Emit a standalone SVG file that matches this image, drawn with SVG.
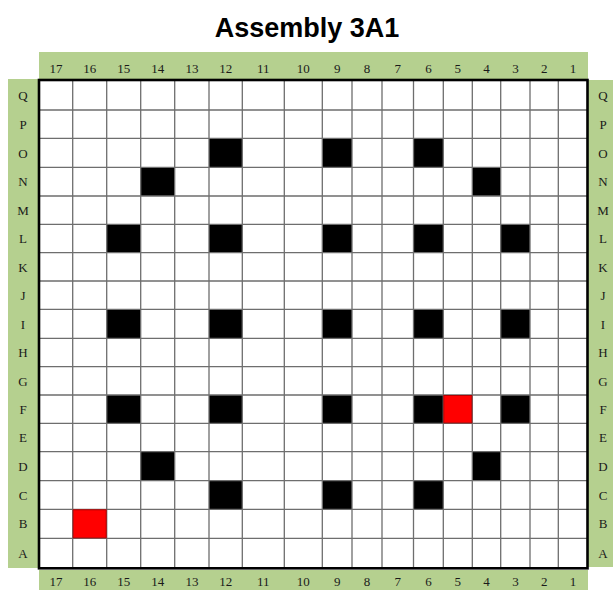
<svg xmlns="http://www.w3.org/2000/svg" width="613" height="590" viewBox="0 0 613 590">
<style>
.band{fill:#b5d08f}
.lab{font-family:"Liberation Serif","Times New Roman",serif;font-size:13px;fill:#1a1a1a;text-anchor:middle}
.title{font-family:"Liberation Sans",Arial,sans-serif;font-size:27px;font-weight:bold;fill:#000;text-anchor:middle}
.blk{fill:#000}
.red{fill:#ff0000;stroke:#b00000;stroke-width:1}
.grid{fill:none;stroke:#6e6e6e;stroke-width:1.3}
</style>
<rect width="613" height="590" fill="#fff"/>
<text class="title" x="307" y="37">Assembly 3A1</text>
<g id="bands">
<rect class="band" x="39" y="52" width="549" height="28"/>
<rect class="band" x="8" y="79" width="31" height="489"/>
<rect class="band" x="587" y="80" width="26" height="487"/>
<rect class="band" x="39" y="570" width="549" height="20"/>
</g>
<g id="cells">
<rect class="blk" x="209" y="138.3" width="33.3" height="29"/>
<rect class="blk" x="322.3" y="138.3" width="29.7" height="29"/>
<rect class="blk" x="413.5" y="138.3" width="29.8" height="29"/>
<rect class="blk" x="140.7" y="167.3" width="34" height="28.7"/>
<rect class="blk" x="472.3" y="167.3" width="28.4" height="28.7"/>
<rect class="blk" x="106.7" y="224.3" width="34" height="28.4"/>
<rect class="blk" x="209" y="224.3" width="33.3" height="28.4"/>
<rect class="blk" x="322.3" y="224.3" width="29.7" height="28.4"/>
<rect class="blk" x="413.5" y="224.3" width="29.8" height="28.4"/>
<rect class="blk" x="500.7" y="224.3" width="29.3" height="28.4"/>
<rect class="blk" x="106.7" y="309.3" width="34" height="29"/>
<rect class="blk" x="209" y="309.3" width="33.3" height="29"/>
<rect class="blk" x="322.3" y="309.3" width="29.7" height="29"/>
<rect class="blk" x="413.5" y="309.3" width="29.8" height="29"/>
<rect class="blk" x="500.7" y="309.3" width="29.3" height="29"/>
<rect class="blk" x="106.7" y="395" width="34" height="28.3"/>
<rect class="blk" x="209" y="395" width="33.3" height="28.3"/>
<rect class="blk" x="322.3" y="395" width="29.7" height="28.3"/>
<rect class="blk" x="413.5" y="395" width="29.8" height="28.3"/>
<rect class="blk" x="500.7" y="395" width="29.3" height="28.3"/>
<rect class="blk" x="140.7" y="451.7" width="34" height="29"/>
<rect class="blk" x="472.3" y="451.7" width="28.4" height="29"/>
<rect class="blk" x="209" y="480.7" width="33.3" height="28.6"/>
<rect class="blk" x="322.3" y="480.7" width="29.7" height="28.6"/>
<rect class="blk" x="413.5" y="480.7" width="29.8" height="28.6"/>
</g>
<g id="grid">
<path class="grid" d="M72.7 80V568.3M106.7 80V568.3M140.7 80V568.3M174.7 80V568.3M209 80V568.3M242.3 80V568.3M284.3 80V568.3M322.3 80V568.3M352 80V568.3M382 80V568.3M413.5 80V568.3M443.3 80V568.3M472.3 80V568.3M500.7 80V568.3M530 80V568.3M558.3 80V568.3
M39 110H587.5M39 138.3H587.5M39 167.3H587.5M39 196H587.5M39 224.3H587.5M39 252.7H587.5M39 281H587.5M39 309.3H587.5M39 338.3H587.5M39 366.7H587.5M39 395H587.5M39 423.3H587.5M39 451.7H587.5M39 480.7H587.5M39 509.3H587.5M39 538.3H587.5"/>
<rect class="red" x="443.8" y="395.5" width="28" height="27.3"/>
<rect class="red" x="73.2" y="509.8" width="33" height="28"/>
<rect x="39" y="80" width="548.5" height="488.3" fill="none" stroke="#000" stroke-width="2.6"/>
</g>
<g id="col-labels-top">
<text class="lab" x="55.9" y="73">17</text>
<text class="lab" x="89.7" y="73">16</text>
<text class="lab" x="123.7" y="73">15</text>
<text class="lab" x="157.7" y="73">14</text>
<text class="lab" x="191.9" y="73">13</text>
<text class="lab" x="225.7" y="73">12</text>
<text class="lab" x="263.3" y="73">11</text>
<text class="lab" x="303.3" y="73">10</text>
<text class="lab" x="337.2" y="73">9</text>
<text class="lab" x="367" y="73">8</text>
<text class="lab" x="397.8" y="73">7</text>
<text class="lab" x="428.4" y="73">6</text>
<text class="lab" x="457.8" y="73">5</text>
<text class="lab" x="486.5" y="73">4</text>
<text class="lab" x="515.4" y="73">3</text>
<text class="lab" x="544.2" y="73">2</text>
<text class="lab" x="572.9" y="73">1</text>
</g>
<g id="col-labels-bottom">
<text class="lab" x="55.9" y="586">17</text>
<text class="lab" x="89.7" y="586">16</text>
<text class="lab" x="123.7" y="586">15</text>
<text class="lab" x="157.7" y="586">14</text>
<text class="lab" x="191.9" y="586">13</text>
<text class="lab" x="225.7" y="586">12</text>
<text class="lab" x="263.3" y="586">11</text>
<text class="lab" x="303.3" y="586">10</text>
<text class="lab" x="337.2" y="586">9</text>
<text class="lab" x="367" y="586">8</text>
<text class="lab" x="397.8" y="586">7</text>
<text class="lab" x="428.4" y="586">6</text>
<text class="lab" x="457.8" y="586">5</text>
<text class="lab" x="486.5" y="586">4</text>
<text class="lab" x="515.4" y="586">3</text>
<text class="lab" x="544.2" y="586">2</text>
<text class="lab" x="572.9" y="586">1</text>
</g>
<g id="row-labels-left">
<text class="lab" x="23" y="100">Q</text>
<text class="lab" x="23" y="129">P</text>
<text class="lab" x="23" y="157.5">O</text>
<text class="lab" x="23" y="186">N</text>
<text class="lab" x="23" y="214.5">M</text>
<text class="lab" x="23" y="243">L</text>
<text class="lab" x="23" y="271.5">K</text>
<text class="lab" x="23" y="299.5">J</text>
<text class="lab" x="23" y="328.5">I</text>
<text class="lab" x="23" y="357">H</text>
<text class="lab" x="23" y="385.5">G</text>
<text class="lab" x="23" y="413.5">F</text>
<text class="lab" x="23" y="442">E</text>
<text class="lab" x="23" y="470.5">D</text>
<text class="lab" x="23" y="499.5">C</text>
<text class="lab" x="23" y="528">B</text>
<text class="lab" x="23" y="557.5">A</text>
</g>
<g id="row-labels-right">
<text class="lab" x="603" y="100">Q</text>
<text class="lab" x="603" y="129">P</text>
<text class="lab" x="603" y="157.5">O</text>
<text class="lab" x="603" y="186">N</text>
<text class="lab" x="603" y="214.5">M</text>
<text class="lab" x="603" y="243">L</text>
<text class="lab" x="603" y="271.5">K</text>
<text class="lab" x="603" y="299.5">J</text>
<text class="lab" x="603" y="328.5">I</text>
<text class="lab" x="603" y="357">H</text>
<text class="lab" x="603" y="385.5">G</text>
<text class="lab" x="603" y="413.5">F</text>
<text class="lab" x="603" y="442">E</text>
<text class="lab" x="603" y="470.5">D</text>
<text class="lab" x="603" y="499.5">C</text>
<text class="lab" x="603" y="528">B</text>
<text class="lab" x="603" y="557.5">A</text>
</g>
</svg>
